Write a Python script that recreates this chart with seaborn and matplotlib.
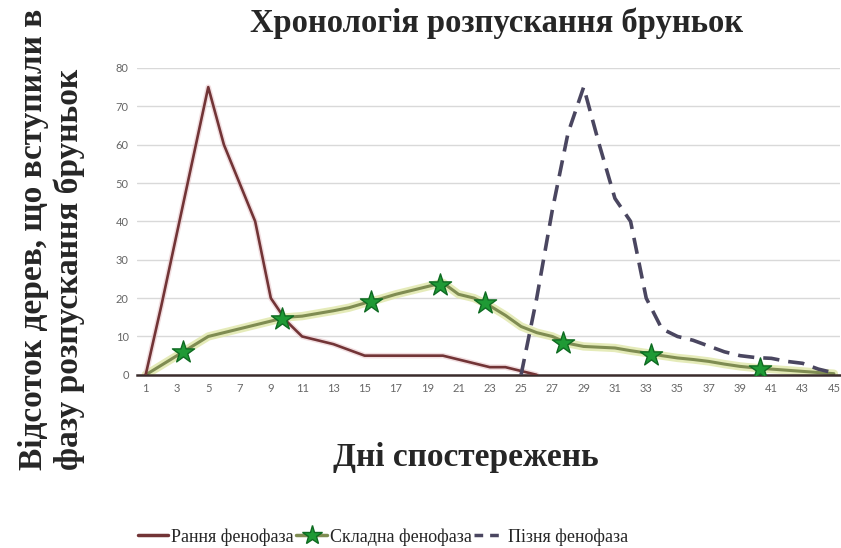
import numpy as np
import pandas as pd
import seaborn as sns
import matplotlib
matplotlib.use("Agg")
import matplotlib.pyplot as plt
from matplotlib.lines import Line2D

# ---- data ----
days = list(range(1, 46))
early = [0, 18, 37, 56, 75, 60, 50, 40, 20, 14,
         10, 9, 8, 6.5, 5, 5, 5, 5, 5, 5,
         4, 3, 2, 2, 1, 0] + [np.nan] * 19
complex_ph = [0, 2.5, 5, 7.5, 10, 11, 12, 13, 14, 15,
              15.3, 16, 16.7, 17.5, 18.7, 19.8, 21, 22, 23, 24,
              21, 20, 18, 15.5, 12.6, 11, 10, 8.2, 7.4, 7.2,
              7, 6.3, 5.7, 5, 4.4, 4, 3.5, 2.8, 2.2, 1.8,
              1.5, 1.2, 0.9, 0.6, 0.3]
late = [np.nan] * 24 + [0, 20, 43, 63, 75, 60, 46, 40, 20, 12,
                        10, 9, 7.5, 6, 5, 4.5, 4.3, 3.5, 3, 1.5, 0.5]
star_days = [3.4, 9.7, 15.4, 19.8, 22.7, 27.7, 33.3, 40.25]
star_vals = [6, 14.5, 19, 23.5, 18.8, 8.2, 5.3, 1.5]
y_ticks = [0, 10, 20, 30, 40, 50, 60, 70, 80]
x_ticks = list(range(1, 46, 2))

title = "Хронологія розпускання бруньок"
xlabel = "Дні спостережень"
ylabel = "Відсоток дерев, що вступили в\nфазу розпускання бруньок"
names = ["Рання фенофаза", "Складна фенофаза", "Пізня фенофаза"]

df = pd.DataFrame({"day": days, "early": early, "complex": complex_ph, "late": late})
stars = pd.DataFrame({"day": star_days, "val": star_vals})

sns.set_theme(style="white")
plt.rcParams["font.family"] = ["Liberation Serif", "DejaVu Serif"]

c_early = "#723436"
c_green = "#7f8c52"
c_glow = "#dfe6a8"
c_late = "#4a4660"
c_star = "#1f9a35"

fig = plt.figure(figsize=(8.41, 5.48), dpi=100)
ax = fig.add_axes([0.163, 0.316, 0.836, 0.560])

# green series with glow
sns.lineplot(data=df, x="day", y="complex", ax=ax, color=c_glow, linewidth=6, alpha=0.8, zorder=2)
sns.lineplot(data=df, x="day", y="complex", ax=ax, color=c_green, linewidth=2.2, zorder=3)
# early series
sns.lineplot(data=df, x="day", y="early", ax=ax, color="#e9c8cc", linewidth=4, alpha=0.6, zorder=2)
sns.lineplot(data=df, x="day", y="early", ax=ax, color=c_early, linewidth=1.9, zorder=4)
# late series
sns.lineplot(data=df, x="day", y="late", ax=ax, color=c_late, linewidth=2.6, zorder=4)
ax.lines[-1].set_dashes([4.5, 2.5])
# stars
sns.scatterplot(data=stars, x="day", y="val", ax=ax, marker="*", s=280, color=c_star,
                edgecolor="#0f6b22", linewidth=1.0, zorder=5)

ax.set_xlim(0.45, 45.4)
ax.set_ylim(0, 80)
ax.set_yticks(y_ticks)
ax.set_xticks(x_ticks)
ax.set_yticklabels([str(v) for v in y_ticks], fontsize=8, color="#666666", family="Lato")
ax.set_xticklabels([str(v) for v in x_ticks], fontsize=8, color="#666666", family="Lato")
ax.tick_params(axis="both", length=0, pad=6)
ax.yaxis.grid(True, color="#d9d9d9", linewidth=1)
ax.xaxis.grid(False)
for s in ["left", "right", "top"]:
    ax.spines[s].set_visible(False)
ax.spines["bottom"].set_color("#3a2c2c")
ax.spines["bottom"].set_linewidth(1.8)
ax.spines["bottom"].set_zorder(3)
ax.set_xlabel("")
ax.set_ylabel("")

fig.text(0.591, 0.958, title, ha="center", va="center", fontsize=23.5, fontweight="bold")
fig.text(0.554, 0.166, xlabel, ha="center", va="center", fontsize=24, fontweight="bold")
fig.text(0.061, 0.564, ylabel, ha="center", va="center", rotation=90, fontsize=24,
         fontweight="bold", multialignment="left", linespacing=1.2)

handles = [
    Line2D([], [], color=c_early, linewidth=2.5),
    Line2D([], [], color=c_green, linewidth=2.5, marker="*", markersize=15,
           markerfacecolor=c_star, markeredgecolor="#0f6b22"),
    Line2D([], [], color=c_late, linewidth=2.5, dashes=[2.5, 2]),
]
fig.legend(handles, names, loc="center", bbox_to_anchor=(0.455, 0.02), ncol=3, frameon=False,
           fontsize=13, handlelength=1.7, handletextpad=0.15, columnspacing=0.15)

fig.savefig("out.png", dpi=100)
